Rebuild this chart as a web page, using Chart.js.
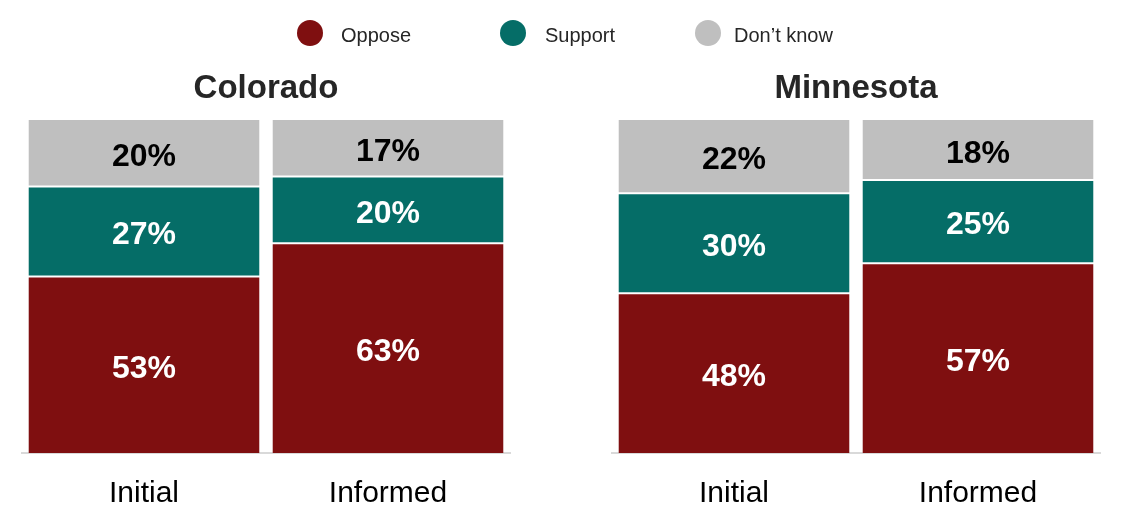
<!DOCTYPE html>
<html>
<head>
<meta charset="utf-8">
<script src="https://cdn.jsdelivr.net/npm/chart.js@4.4.0/dist/chart.umd.min.js"></script>
<style>
  html, body { margin: 0; padding: 0; background: #fff; overflow: hidden; }
  #wrap { position: relative; width: 1122px; height: 524px; overflow: hidden; font-family: 'Liberation Sans', Arial, sans-serif; }
  .box { position: absolute; top: 0; width: 532px; height: 540px; }
  .lg-dot { position: absolute; width: 26px; height: 26px; border-radius: 50%; top: 20px; }
  .lg-txt { position: absolute; top: 23px; font-size: 20px; line-height: 24px; color: #262626; white-space: nowrap; }
</style>
</head>
<body>
<div id="wrap">
  <div class="box" style="left:0"><canvas id="chartCO"></canvas></div>
  <div class="box" style="left:590px"><canvas id="chartMN"></canvas></div>
  <div id="legend"></div>
</div>
<script>
'use strict';

// Veriler (yüzde)
const categories        = ['Initial', 'Informed'];
const seriesNames       = ['Oppose', 'Support', 'Don\u2019t know'];
const seriesColors      = ['#7F0F10', '#056D67', '#BFBFBF'];
const labelColors       = ['#FFFFFF', '#FFFFFF', '#000000'];

const coloradoOppose    = [53, 63];
const coloradoSupport   = [27, 20];
const coloradoDontKnow  = [20, 17];

const minnesotaOppose   = [48, 57];
const minnesotaSupport  = [30, 25];
const minnesotaDontKnow = [22, 18];

const FONT = "'Liberation Sans', Arial, sans-serif";

// Legend (HTML)
const legendPos = [{ dot: 297, txt: 341 }, { dot: 500, txt: 545 }, { dot: 695, txt: 734 }];
const legendEl  = document.getElementById('legend');
seriesNames.forEach((name, i) => {
  const d = document.createElement('div');
  d.className = 'lg-dot';
  d.style.left = legendPos[i].dot + 'px';
  d.style.background = seriesColors[i];
  legendEl.appendChild(d);
  const t = document.createElement('div');
  t.className = 'lg-txt';
  t.style.left = legendPos[i].txt + 'px';
  t.textContent = name;
  legendEl.appendChild(t);
});

// Segment ortasına yüzde etiketi
const valueLabels = {
  id: 'valueLabels',
  afterDatasetsDraw(chart) {
    const ctx = chart.ctx;
    ctx.save();
    ctx.font = `bold 32px ${FONT}`;
    ctx.textAlign = 'center';
    ctx.textBaseline = 'middle';
    chart.data.datasets.forEach((ds, di) => {
      const meta = chart.getDatasetMeta(di);
      meta.data.forEach((bar, i) => {
        ctx.fillStyle = labelColors[di];
        ctx.fillText(ds.data[i] + '%', bar.x, (bar.y + bar.base) / 2 + 4);
      });
    });
    ctx.restore();
  },
};

function makeChart(canvasId, title, oppose, support, dontKnow) {
  const borders = [
    { top: 1, bottom: 0, left: 0, right: 0 },
    { top: 1, bottom: 1, left: 0, right: 0 },
    { top: 0, bottom: 1, left: 0, right: 0 },
  ];
  const values = [oppose, support, dontKnow];
  return new Chart(document.getElementById(canvasId), {
    type: 'bar',
    data: {
      labels: categories,
      datasets: seriesNames.map((name, i) => ({
        label:              name,
        data:               values[i],
        backgroundColor:    seriesColors[i],
        borderColor:        '#FFFFFF',
        borderWidth:        borders[i],
        borderSkipped:      false,
        categoryPercentage: 0.947,
        barPercentage:      1,
      })),
    },
    options: {
      responsive:          true,
      maintainAspectRatio: false,
      animation:           false,
      layout: { padding: { top: 69, left: 22, right: 22, bottom: 5 } },
      plugins: {
        legend:  { display: false },
        tooltip: { enabled: false },
        title: {
          display: true,
          text:    title,
          color:   '#262626',
          font:    { family: FONT, size: 33, weight: 'bold' },
          padding: { top: 0, bottom: 11.4 },
        },
      },
      scales: {
        x: {
          stacked: true,
          grid:    { display: false, drawTicks: false },
          border:  { display: true, color: '#D9D9D9', width: 2 },
          ticks:   { color: '#000', padding: 23, font: { family: FONT, size: 30 } },
        },
        y: {
          stacked: true,
          display: false,
          min: 0,
          max: 100,
        },
      },
    },
    plugins: [valueLabels],
  });
}

makeChart('chartCO', 'Colorado',  coloradoOppose,  coloradoSupport,  coloradoDontKnow);
makeChart('chartMN', 'Minnesota', minnesotaOppose, minnesotaSupport, minnesotaDontKnow);
</script>
</body>
</html>
